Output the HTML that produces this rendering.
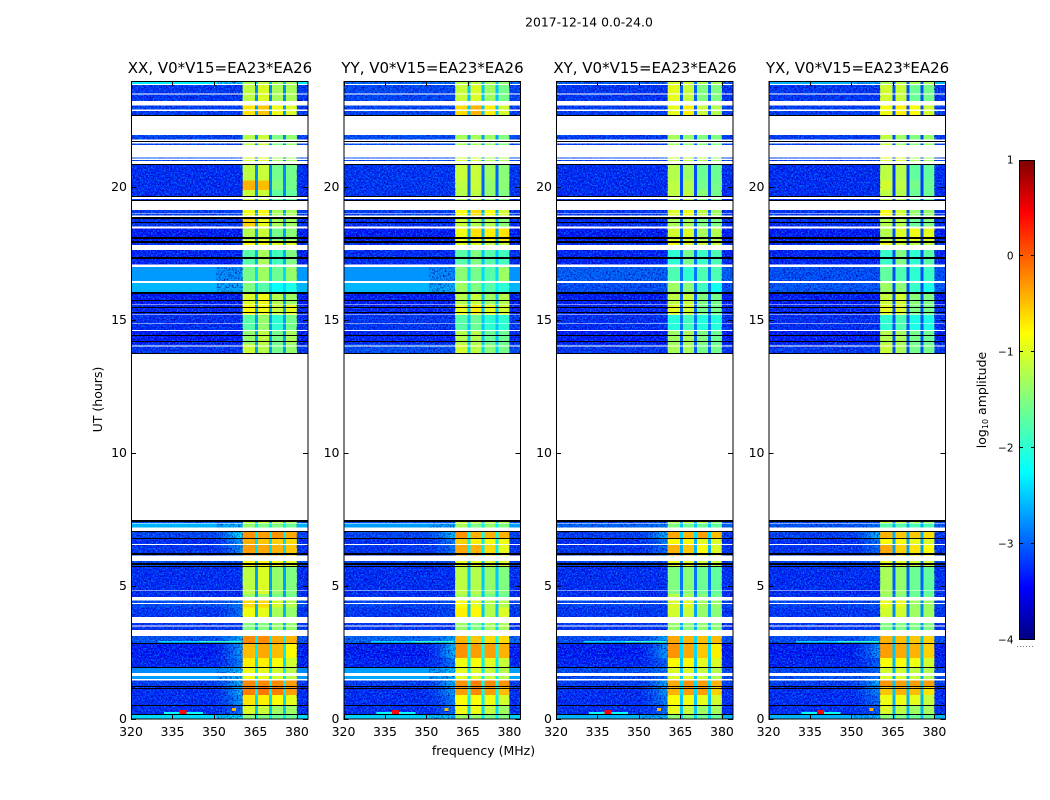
<!DOCTYPE html>
<html lang="en">
<head>
<meta charset="utf-8">
<title>2017-12-14 0.0-24.0</title>
<style>
html,body{margin:0;padding:0;background:#fff;width:1050px;height:800px;overflow:hidden}
svg{display:block}
text{font-family:"DejaVu Sans","Liberation Sans",sans-serif;fill:#000}
</style>
</head>
<body>
<svg id="chart" width="1050" height="800" viewBox="0 0 1050 800" xmlns="http://www.w3.org/2000/svg">
  <defs>
    <linearGradient id="jet-gradient" x1="0" y1="1" x2="0" y2="0">
      <stop offset="0" stop-color="#00007f"/>
      <stop offset="0.11" stop-color="#0000ff"/>
      <stop offset="0.35" stop-color="#00ffff"/>
      <stop offset="0.5" stop-color="#7fff7f"/>
      <stop offset="0.64" stop-color="#ffff00"/>
      <stop offset="0.89" stop-color="#ff0000"/>
      <stop offset="1" stop-color="#7f0000"/>
    </linearGradient>
    <filter id="speckle-filter" x="0" y="0" width="100%" height="100%" color-interpolation-filters="sRGB">
      <feTurbulence type="fractalNoise" baseFrequency="0.62" numOctaves="2" seed="7" result="noise"/>
      <feColorMatrix in="noise" type="matrix" values="0 0 0 0 0  0 0 0 0 0.55  0 0 0 0 1  5 0 0 0 -2.45" result="light"/>
      <feColorMatrix in="noise" type="matrix" values="0 0 0 0 0  0 0 0 0 0  0 0 0 0 0.6  0 5 0 0 -2.35" result="dark"/>
      <feMerge><feMergeNode in="dark"/><feMergeNode in="light"/></feMerge>
    </filter>
  </defs>
  <text x="589" y="26.5" font-size="12.4" text-anchor="middle">2017-12-14 0.0-24.0</text>
  <text x="483.5" y="755" font-size="12.5" text-anchor="middle">frequency (MHz)</text>
  <text transform="translate(102 399.5) rotate(-90)" font-size="12.5" text-anchor="middle">UT (hours)</text>
  <g id="panels"></g>
  <g id="colorbar"></g>
</svg>
<script>
// ---- Chart data (UT hours, MHz, log10 amplitude) ----
const panelTitles = ["XX, V0*V15=EA23*EA26", "YY, V0*V15=EA23*EA26", "XY, V0*V15=EA23*EA26", "YX, V0*V15=EA23*EA26"];
const freqTicks = [320, 335, 350, 365, 380];
const utTicks = [0, 5, 10, 15, 20];
const colorTicks = [-4, -3, -2, -1, 0, 1];
const freqRange = [320, 384];
const utRange = [0, 24];
const colorRange = [-4, 1];
// frequency edges of background, shoulder steps, four spectral windows and the notches between them
const bgFreq = [320, 351];
const shoulderFreqs = [[351, 353], [353, 355], [355, 357], [357, 358.5], [358.5, 360.4]];
const shoulderWeights = [0.12, 0.3, 0.55, 0.8, 1];
const windowFreqs = [[360.4, 364.9], [366, 369.9], [371, 375], [376.1, 380]];
const notchFreqs = [[364.9, 366], [369.9, 371], [375, 376.1]];
const rightBgFreq = [380, 384];
// UT span of every time block
const blockStart = [24, 23.87, 23.2, 21.97, 21.6, 20.84, 20.25, 19.9, 19.5, 18.85, 18.5, 18, 17.64, 17.05, 16.44, 16.04, 15.6, 15.2, 14.6, 14.1, 7.49, 7.36, 7.05, 6.8, 6.55, 6, 5.72, 4.7, 4.45, 4.2, 3.7, 3.13, 2.85, 2.3, 1.94, 1.61, 1.44, 1.23, 0.9, 0.53, 0.18];
const blockEnd = [23.87, 23.2, 22.7, 21.6, 20.84, 20.25, 19.9, 19.5, 18.85, 18.5, 18, 17.64, 17.05, 16.44, 16.04, 15.6, 15.2, 14.6, 14.1, 13.74, 7.36, 7.05, 6.8, 6.55, 6, 5.72, 4.7, 4.45, 4.2, 3.7, 3.13, 2.85, 2.3, 1.94, 1.61, 1.44, 1.23, 0.9, 0.53, 0.18, 0];
// each row: background, shoulder, window1..4, notch
const levelsXX = [
[-2.2,-2.2,-1.3,-1.2,-1.3,-1.3,-2.4],[-3.15,-3.15,-1.2,-1.05,-1.3,-1.3,-2.7],[-3.1,-3.1,-0.75,-0.6,-0.95,-1.05,-2.6],
[-3.05,-3.05,-1.25,-1.15,-1.5,-1.4,-2.7],[-3.0,-3.0,-1.1,-1.05,-1.3,-1.3,-2.7],[-3.2,-3.2,-1.2,-1.15,-1.55,-1.55,-2.7],
[-3.2,-3.2,-0.5,-0.55,-1.5,-1.55,-2.7],[-3.2,-3.2,-1.15,-1.15,-1.65,-1.65,-2.7],[-3.1,-3.1,-0.95,-0.9,-1.3,-1.3,-2.6],
[-3.15,-3.15,-0.65,-1.0,-1.3,-1.35,-2.6],[-3.3,-3.3,-1.25,-1.15,-1.55,-1.45,-2.6],[-3.2,-3.2,-0.9,-0.95,-1.05,-1.05,-2.5],
[-3.25,-3.25,-1.7,-1.3,-1.8,-1.5,-2.5],[-2.62,-2.62,-1.55,-1.35,-1.6,-1.4,-2.3],[-2.48,-2.48,-1.5,-1.7,-2.1,-2.0,-2.3],
[-3.3,-3.3,-1.05,-0.95,-1.25,-1.35,-2.6],[-3.25,-3.25,-0.85,-0.95,-1.15,-1.0,-2.6],[-3.2,-3.2,-1.7,-1.4,-1.9,-1.55,-2.6],
[-3.3,-3.3,-1.4,-1.2,-1.55,-1.3,-2.6],[-3.15,-3.15,-1.15,-1.25,-1.55,-1.4,-2.6],
[-3.0,-3.0,-1.2,-1.1,-1.1,-1.25,-2.5],[-2.5,-2.4,-1.4,-1.5,-1.5,-1.6,-2.2],[-3.05,-2.2,-0.35,-0.4,-0.35,-0.45,-2.2],
[-3.2,-2.55,-0.5,-0.6,-0.65,-0.7,-2.3],[-3.15,-2.65,-0.4,-0.45,-0.5,-0.6,-2.3],[-3.0,-3.0,-0.85,-0.85,-0.95,-1.0,-2.4],
[-3.2,-3.2,-1.2,-1.05,-1.4,-1.5,-2.6],[-3.2,-3.2,-1.4,-1.4,-1.55,-1.55,-2.6],[-3.0,-2.75,-0.7,-0.7,-1.1,-1.25,-2.5],
[-3.15,-2.8,-0.95,-1.0,-1.3,-1.4,-2.5],[-3.15,-3.15,-1.5,-1.5,-1.4,-1.4,-2.5],[-2.95,-2.45,-0.3,-0.3,-0.45,-0.5,-2.2],
[-3.3,-2.6,-0.55,-0.45,-0.55,-0.85,-2.2],[-3.25,-2.75,-0.8,-0.8,-0.9,-1.1,-2.3],[-2.7,-2.35,-0.95,-1.0,-1.1,-1.2,-2.2],
[-2.6,-2.4,-0.95,-1.0,-1.1,-1.2,-2.2],[-3.1,-2.4,-0.3,-0.3,-0.3,-0.4,-2.2],[-3.2,-2.45,-0.25,-0.2,-0.25,-0.4,-2.2],
[-3.2,-2.6,-0.75,-0.8,-0.9,-1.0,-2.3],[-3.2,-2.85,-1.05,-1.15,-1.35,-1.35,-2.4],[-2.3,-2.2,-1.45,-1.5,-1.6,-1.6,-2.2]];
const levelsYY = [
[-2.8,-2.8,-1.25,-1.2,-1.3,-1.4,-2.4],[-3.05,-3.05,-1.15,-1.05,-1.35,-1.55,-2.4],[-3.05,-3.05,-0.7,-0.5,-0.8,-1.1,-2.4],
[-3.0,-3.0,-1.3,-1.3,-1.35,-1.5,-2.6],[-3.0,-3.0,-1.1,-1.1,-1.25,-1.25,-2.6],[-3.15,-3.15,-1.15,-1.15,-1.35,-1.45,-2.9],
[-3.15,-3.15,-1.2,-1.15,-1.4,-1.45,-2.9],[-3.15,-3.15,-1.25,-1.2,-1.4,-1.5,-2.9],[-3.1,-3.1,-0.9,-0.7,-0.9,-1.1,-2.5],
[-3.2,-3.2,-1.15,-1.25,-1.25,-1.45,-2.5],[-3.3,-3.3,-0.95,-0.75,-0.8,-0.75,-2.5],[-3.2,-3.2,-1.05,-1.05,-1.15,-1.15,-2.5],
[-3.2,-3.2,-1.7,-1.5,-1.7,-1.8,-2.4],[-2.65,-2.65,-1.45,-1.55,-1.7,-1.35,-2.3],[-2.48,-2.48,-1.35,-1.5,-1.7,-1.9,-2.2],
[-3.3,-3.3,-1.25,-1.15,-1.35,-1.25,-2.4],[-3.25,-3.25,-1.0,-0.8,-1.0,-1.1,-2.4],[-3.15,-3.15,-1.7,-1.6,-1.9,-1.9,-2.4],
[-3.25,-3.25,-1.25,-1.25,-1.6,-1.6,-2.4],[-3.0,-3.0,-1.1,-1.2,-1.45,-1.55,-2.3],
[-3.0,-3.0,-1.1,-1.1,-1.1,-1.2,-2.4],[-2.6,-2.5,-1.3,-1.5,-1.4,-1.5,-2.2],[-3.05,-2.4,-0.35,-0.5,-0.5,-0.5,-2.1],
[-3.2,-2.75,-0.65,-0.8,-0.9,-0.95,-2.2],[-3.15,-2.8,-0.45,-0.5,-0.7,-1.0,-2.2],[-3.05,-3.05,-1.0,-1.0,-1.05,-1.05,-2.4],
[-3.2,-3.2,-1.2,-1.25,-1.4,-1.5,-2.4],[-3.2,-3.2,-1.3,-1.35,-1.55,-1.6,-2.4],[-3.05,-3.0,-0.9,-1.0,-1.25,-1.25,-2.4],
[-3.15,-3.05,-0.8,-0.85,-1.25,-1.05,-2.4],[-3.15,-3.15,-1.4,-1.5,-1.3,-1.3,-2.3],[-2.85,-2.55,-0.5,-0.6,-0.7,-0.7,-2.1],
[-3.3,-2.45,-0.35,-0.4,-0.4,-0.5,-2.1],[-3.25,-2.8,-0.95,-0.9,-1.0,-1.15,-2.2],[-2.6,-2.35,-1.0,-1.05,-1.15,-1.25,-2.2],
[-2.55,-2.4,-1.05,-1.05,-1.15,-1.25,-2.2],[-3.1,-2.45,-0.35,-0.25,-0.3,-0.35,-2.1],[-3.2,-2.55,-0.4,-0.3,-0.4,-0.55,-2.1],
[-3.2,-2.75,-0.9,-0.9,-0.95,-1.1,-2.2],[-3.2,-2.85,-0.95,-0.95,-1.15,-1.35,-2.3],[-2.35,-2.3,-1.35,-1.4,-1.5,-1.5,-2.2]];
const levelsXY = [
[-2.9,-2.9,-1.1,-1.1,-1.3,-1.3,-2.8],[-3.15,-3.15,-1.0,-1.15,-1.5,-1.5,-2.9],[-3.1,-3.1,-1.0,-0.8,-1.15,-1.25,-2.9],
[-3.1,-3.1,-1.3,-1.4,-1.5,-1.5,-2.9],[-3.05,-3.05,-1.15,-1.15,-1.25,-1.35,-2.9],[-3.2,-3.2,-1.25,-1.35,-1.6,-1.6,-3.0],
[-3.2,-3.2,-1.2,-1.25,-1.55,-1.55,-3.0],[-3.2,-3.2,-1.2,-1.2,-1.45,-1.55,-3.0],[-3.15,-3.15,-1.05,-0.95,-1.2,-1.35,-2.9],
[-3.2,-3.2,-1.3,-1.3,-1.5,-1.5,-2.9],[-3.3,-3.3,-1.1,-1.05,-1.3,-1.25,-2.9],[-3.2,-3.2,-0.95,-1.05,-1.15,-1.15,-2.9],
[-3.25,-3.25,-1.9,-1.55,-1.85,-1.75,-2.8],[-2.9,-2.9,-1.75,-1.9,-1.75,-1.75,-2.8],[-3.0,-3.0,-1.35,-1.45,-1.8,-2.05,-2.8],
[-3.3,-3.3,-1.2,-1.15,-1.5,-1.55,-2.9],[-3.25,-3.25,-1.0,-1.1,-1.55,-1.55,-2.9],[-3.2,-3.2,-1.95,-1.8,-1.95,-1.95,-2.8],
[-3.3,-3.3,-1.35,-1.3,-1.5,-1.6,-2.9],[-3.15,-3.15,-1.3,-1.3,-1.55,-1.55,-2.9],
[-3.05,-3.05,-1.2,-1.1,-1.2,-1.4,-2.6],[-2.85,-2.75,-1.5,-1.6,-1.6,-1.65,-2.4],[-3.1,-2.45,-0.45,-0.5,-0.4,-0.55,-2.3],
[-3.2,-2.7,-0.85,-0.85,-1.0,-1.05,-2.5],[-3.15,-2.85,-0.5,-0.6,-0.9,-1.05,-2.5],[-3.05,-3.05,-1.0,-1.0,-1.15,-1.15,-2.7],
[-3.2,-3.2,-1.5,-1.45,-1.6,-1.65,-2.8],[-3.2,-3.2,-1.2,-1.3,-1.45,-1.55,-2.7],[-3.05,-3.05,-1.05,-1.0,-1.35,-1.4,-2.6],
[-3.15,-3.1,-1.1,-1.15,-1.4,-1.45,-2.6],[-3.15,-3.15,-1.4,-1.45,-1.4,-1.45,-2.5],[-3.0,-2.55,-0.45,-0.5,-0.55,-0.55,-2.3],
[-3.3,-2.6,-0.35,-0.45,-0.6,-0.8,-2.3],[-3.25,-2.9,-0.85,-0.85,-1.0,-1.05,-2.4],[-3.0,-2.75,-1.05,-1.05,-1.15,-1.25,-2.4],
[-3.0,-2.85,-1.05,-1.05,-1.15,-1.25,-2.4],[-3.1,-2.5,-0.45,-0.35,-0.4,-0.5,-2.3],[-3.2,-2.55,-0.5,-0.4,-0.4,-0.65,-2.3],
[-3.2,-2.75,-0.9,-0.95,-1.0,-1.1,-2.4],[-3.2,-2.9,-1.0,-1.15,-1.35,-1.3,-2.4],[-2.5,-2.4,-1.45,-1.5,-1.6,-1.6,-2.3]];
const levelsYX = [
[-2.5,-2.5,-1.3,-1.2,-1.3,-1.3,-2.9],[-3.15,-3.15,-1.1,-1.15,-1.6,-1.55,-3.0],[-3.1,-3.1,-0.95,-0.8,-0.9,-1.1,-3.0],
[-3.1,-3.1,-1.2,-1.35,-1.5,-1.4,-3.0],[-3.05,-3.05,-1.05,-1.05,-1.3,-1.3,-3.0],[-3.2,-3.2,-1.2,-1.25,-1.65,-1.65,-3.1],
[-3.2,-3.2,-1.1,-1.2,-1.55,-1.6,-3.1],[-3.2,-3.2,-1.2,-1.25,-1.6,-1.6,-3.1],[-3.15,-3.15,-0.9,-1.1,-1.4,-1.4,-3.0],
[-3.2,-3.2,-1.25,-1.25,-1.6,-1.5,-3.0],[-3.3,-3.3,-1.25,-1.05,-0.95,-1.0,-3.0],[-3.2,-3.2,-1.0,-1.1,-1.2,-1.2,-3.0],
[-3.25,-3.25,-1.85,-1.5,-1.9,-1.7,-3.0],[-3.0,-3.0,-1.65,-1.75,-1.9,-1.85,-3.0],[-2.95,-2.95,-1.35,-1.45,-1.85,-2.0,-3.0],
[-3.3,-3.3,-1.15,-1.1,-1.45,-1.5,-3.0],[-3.25,-3.25,-1.0,-1.05,-1.5,-1.55,-3.0],[-3.2,-3.2,-1.9,-1.75,-2.0,-2.0,-3.0],
[-3.3,-3.3,-1.25,-1.3,-1.55,-1.6,-3.0],[-3.15,-3.15,-1.15,-1.3,-1.55,-1.55,-3.0],
[-3.05,-3.05,-1.1,-1.1,-1.2,-1.3,-2.7],[-2.95,-2.8,-1.7,-1.7,-1.75,-1.75,-2.5],[-3.1,-2.45,-0.5,-0.6,-0.6,-0.7,-2.5],
[-3.2,-2.75,-0.9,-0.9,-1.0,-1.05,-2.6],[-3.15,-2.85,-0.45,-0.65,-0.75,-0.9,-2.6],[-3.05,-3.05,-1.0,-1.0,-1.1,-1.1,-2.8],
[-3.2,-3.2,-1.3,-1.4,-1.6,-1.65,-2.9],[-3.2,-3.2,-1.35,-1.45,-1.6,-1.6,-2.8],[-3.05,-3.0,-1.0,-1.0,-1.35,-1.35,-2.7],
[-3.15,-3.1,-1.1,-1.1,-1.35,-1.35,-2.7],[-3.15,-3.15,-1.5,-1.5,-1.5,-1.5,-2.6],[-3.0,-2.65,-0.5,-0.55,-0.6,-0.65,-2.4],
[-3.3,-2.65,-0.4,-0.45,-0.5,-0.65,-2.4],[-3.25,-2.95,-0.9,-0.9,-0.95,-1.1,-2.5],[-3.05,-2.85,-1.1,-1.1,-1.2,-1.25,-2.5],
[-2.95,-2.75,-1.05,-1.05,-1.15,-1.25,-2.5],[-3.1,-2.5,-0.35,-0.4,-0.4,-0.4,-2.4],[-3.2,-2.65,-0.6,-0.5,-0.55,-0.75,-2.4],
[-3.2,-2.85,-0.95,-0.95,-1.0,-1.15,-2.5],[-3.2,-2.95,-1.05,-1.2,-1.35,-1.3,-2.5],[-2.5,-2.4,-1.45,-1.5,-1.6,-1.6,-2.4]];
const panelLevels = [levelsXX, levelsYY, levelsXY, levelsYX];
// time ranges with no data (white)
const gapStart = [23.89, 23.53, 23.24, 22.93, 22.70, 21.80, 21.71, 21.59, 21.08, 20.99, 19.65, 19.50, 19.03, 18.95, 18.52, 17.83, 17.10, 16.47, 15.60, 15.22, 14.87, 14.63, 14.05, 13.74, 7.37, 7.20, 6.58, 6.15, 4.84, 4.59, 4.36, 3.84, 3.52, 3.35, 1.73, 1.50];
const gapEnd = [23.85, 23.50, 23.07, 22.88, 21.97, 21.74, 21.65, 21.13, 21.03, 20.84, 19.56, 19.15, 19.01, 18.87, 18.46, 17.64, 17.01, 16.41, 15.57, 15.19, 14.85, 14.60, 14.02, 7.49, 7.35, 7.07, 6.55, 5.95, 4.81, 4.45, 4.33, 3.61, 3.48, 3.13, 1.61, 1.44];
// integrations with near-zero amplitude (black)
const deadRows = [22.71, 21.74, 20.84, 19.66, 19.51, 18.85, 18.68, 18.11, 17.96, 17.34, 16.04, 15.75, 15.46, 15.30, 14.41, 14.18, 13.76, 7.47, 7.05, 6.80, 6.21, 5.83, 5.72, 2.85, 1.94, 1.23, 1.14, 0.53, 0.18];
const deadRowDuration = [0.05, 0.04, 0.05, 0.05, 0.04, 0.07, 0.05, 0.07, 0.07, 0.06, 0.06, 0.04, 0.05, 0.04, 0.04, 0.05, 0.05, 0.06, 0.04, 0.04, 0.09, 0.08, 0.04, 0.03, 0.03, 0.03, 0.03, 0.03, 0.05];
// RFI features: fmin, fmax, UT min, UT max, level
const rfiFmin = [332, 337.5, 356.5, 330, 345];
const rfiFmax = [346, 340, 358, 345, 360];
const rfiUTmin = [0.18, 0.18, 0.30, 2.88, 2.88];
const rfiUTmax = [0.26, 0.34, 0.42, 2.93, 2.93];
const rfiLevel = [-2.1, 0.35, -0.5, -2.3, -1.9];

// ---- Axis geometry ----
const panelLeft = [131, 343.5, 556, 768.5];
const panelWidth = 177;
const plotTop = 81;
const plotBottom = 719;
const SVG_NS = "http://www.w3.org/2000/svg";
function xScale(freq, left) { return left + (freq - freqRange[0]) / (freqRange[1] - freqRange[0]) * panelWidth; }
function yScale(ut) { return plotBottom - (ut - utRange[0]) / (utRange[1] - utRange[0]) * (plotBottom - plotTop); }
function jet(v) {
  const f = Math.min(1, Math.max(0, (v - colorRange[0]) / (colorRange[1] - colorRange[0])));
  const r = Math.min(1, Math.max(0, 1.5 - Math.abs(4 * f - 3)));
  const g = Math.min(1, Math.max(0, 1.5 - Math.abs(4 * f - 2)));
  const b = Math.min(1, Math.max(0, 1.5 - Math.abs(4 * f - 1)));
  return "rgb(" + Math.round(r * 255) + "," + Math.round(g * 255) + "," + Math.round(b * 255) + ")";
}
function svgEl(tag, parent, attrs) {
  const el = document.createElementNS(SVG_NS, tag);
  for (const k in attrs) el.setAttribute(k, attrs[k]);
  parent.appendChild(el);
  return el;
}
function drawCell(parent, left, f0, f1, utLow, utHigh, level) {
  const x0 = xScale(f0, left), x1 = xScale(f1, left);
  const yTop = yScale(utHigh), yBottom = yScale(utLow);
  const cell = svgEl("rect", parent, { x: x0.toFixed(2), y: yTop.toFixed(2), width: (x1 - x0).toFixed(2), height: (yBottom - yTop).toFixed(2), fill: jet(level), "shape-rendering": "crispEdges" });
  
  
  return cell;
}

// ---- Panels ----
const panelsRoot = document.getElementById("panels");
panelTitles.forEach(function (title, p) {
  const left = panelLeft[p];
  const levels = panelLevels[p];
  const g = svgEl("g", panelsRoot, {});
  
  

  const cells = svgEl("g", g, {});
  
  
  blockStart.forEach(function (top, i) {
    const bottom = blockEnd[i];
    const row = levels[i];
    drawCell(cells, left, bgFreq[0], bgFreq[1], bottom, top, row[0]);
    shoulderFreqs.forEach(function (s, k) {
      const w = shoulderWeights[k];
      drawCell(cells, left, s[0], s[1], bottom, top, row[0] + (row[1] - row[0]) * w);
    });
    windowFreqs.forEach(function (w, k) { drawCell(cells, left, w[0], w[1], bottom, top, row[2 + k]); });
    notchFreqs.forEach(function (n) { drawCell(cells, left, n[0], n[1], bottom, top, row[6]); });
    drawCell(cells, left, rightBgFreq[0], rightBgFreq[1], bottom, top, row[0]);
  });

  // receiver-noise texture on the off-band channels
  const speckleA = svgEl("rect", g, { x: xScale(bgFreq[0], left), y: plotTop, width: xScale(360.4, left) - left, height: plotBottom - plotTop, filter: "url(#speckle-filter)", opacity: "0.7" });
  
  
  const speckleB = svgEl("rect", g, { x: xScale(rightBgFreq[0], left), y: plotTop, width: xScale(rightBgFreq[1], left) - xScale(rightBgFreq[0], left), height: plotBottom - plotTop, filter: "url(#speckle-filter)", opacity: "0.7" });
  
  

  // bright, smooth off-band blocks sit above the receiver noise
  blockStart.forEach(function (top, i) {
    const row = levels[i];
    if (row[0] > -2.75) {
      drawCell(g, left, bgFreq[0], bgFreq[1], blockEnd[i], top, row[0]);
      drawCell(g, left, rightBgFreq[0], rightBgFreq[1], blockEnd[i], top, row[0]);
    }
  });

  rfiFmin.forEach(function (f0, i) {
    const spot = drawCell(g, left, f0, rfiFmax[i], rfiUTmin[i], rfiUTmax[i], rfiLevel[i]);
    
  });

  gapStart.forEach(function (top, i) {
    const gap = svgEl("rect", g, { x: left, y: yScale(top).toFixed(2), width: panelWidth, height: (yScale(gapEnd[i]) - yScale(top)).toFixed(2), fill: "#fff", "shape-rendering": "crispEdges" });
    
    
  });
  deadRows.forEach(function (ut, i) {
    const h = deadRowDuration[i];
    const dead = svgEl("rect", g, { x: left, y: Math.round(yScale(ut + h / 2)), width: panelWidth, height: Math.max(1, Math.round(yScale(ut - h / 2) - yScale(ut + h / 2))), fill: "#000", "shape-rendering": "crispEdges" });
    
    
  });

  const frame = svgEl("rect", g, { x: left + 0.5, y: plotTop + 0.5, width: panelWidth - 1 + 0.5, height: plotBottom - plotTop - 0.5, fill: "none", stroke: "#000", "stroke-width": 1, "shape-rendering": "crispEdges" });
  
  

  freqTicks.forEach(function (t) {
    const x = Math.round(xScale(t, left)) + 0.5;
    const tickBottom = svgEl("line", g, { x1: x, x2: x, y1: plotBottom, y2: plotBottom - 5, stroke: "#000", "shape-rendering": "crispEdges" });
    
    
    const tickTop = svgEl("line", g, { x1: x, x2: x, y1: plotTop, y2: plotTop + 5, stroke: "#000", "shape-rendering": "crispEdges" });
    
    
    const label = svgEl("text", g, { x: xScale(t, left), y: 736, "font-size": 12.5, "text-anchor": "middle" });
    
    
    label.textContent = t;
  });
  utTicks.forEach(function (t) {
    const y = Math.round(yScale(t)) + 0.5;
    const tickLeft = svgEl("line", g, { x1: left, x2: left + 5, y1: y, y2: y, stroke: "#000", "shape-rendering": "crispEdges" });
    
    
    const tickRight = svgEl("line", g, { x1: left + panelWidth - 5, x2: left + panelWidth, y1: y, y2: y, stroke: "#000", "shape-rendering": "crispEdges" });
    
    
    const label = svgEl("text", g, { x: left - 4, y: yScale(t) + 3.8, "font-size": 12.5, "text-anchor": "end" });
    
    
    label.textContent = t;
  });
  const titleEl = svgEl("text", g, { x: left + panelWidth / 2 + 0.5, y: 73, "font-size": 15, "text-anchor": "middle" });
  
  
  titleEl.textContent = title;
});

// ---- Colorbar ----
const cbRoot = document.getElementById("colorbar");
const cbLeft = 1019, cbWidth = 16, cbTop = 160, cbBottom = 640;
function cbScale(v) { return cbBottom - (v - colorRange[0]) / (colorRange[1] - colorRange[0]) * (cbBottom - cbTop); }
const cbRamp = svgEl("rect", cbRoot, { x: cbLeft, y: cbTop, width: cbWidth, height: cbBottom - cbTop, fill: "url(#jet-gradient)" });


const cbFrame = svgEl("rect", cbRoot, { x: cbLeft + 0.5, y: cbTop + 0.5, width: cbWidth - 1, height: cbBottom - cbTop - 1, fill: "none", stroke: "#000", "shape-rendering": "crispEdges" });


colorTicks.forEach(function (t) {
  const y = Math.round(cbScale(t)) + (t === colorRange[1] ? 0.5 : -0.5);
  const tickL = svgEl("line", cbRoot, { x1: cbLeft, x2: cbLeft + 4, y1: y, y2: y, stroke: "#000", "shape-rendering": "crispEdges" });
  
  
  const tickR = svgEl("line", cbRoot, { x1: cbLeft + cbWidth - 4, x2: cbLeft + cbWidth, y1: y, y2: y, stroke: "#000", "shape-rendering": "crispEdges" });
  
  
  const label = svgEl("text", cbRoot, { x: 1013.5, y: cbScale(t) + 3.5, "font-size": 10.5, "text-anchor": "end" });
  
  
  label.textContent = String(t).replace("-", "\u2212");
});
const cbDots = svgEl("line", cbRoot, { x1: 1017, x2: 1035, y1: 646.5, y2: 646.5, stroke: "#777", "stroke-dasharray": "1 2", "shape-rendering": "crispEdges" });


const cbLabel = svgEl("text", cbRoot, { transform: "translate(986 400) rotate(-90)", "font-size": 12.5, "text-anchor": "middle" });


const t1 = svgEl("tspan", cbLabel, {});
t1.textContent = "log";
const t2 = svgEl("tspan", cbLabel, { "font-size": 8, dy: 2 });
t2.textContent = "10";
const t3 = svgEl("tspan", cbLabel, { dy: -2 });
t3.textContent = " amplitude";
</script>
</body>
</html>
